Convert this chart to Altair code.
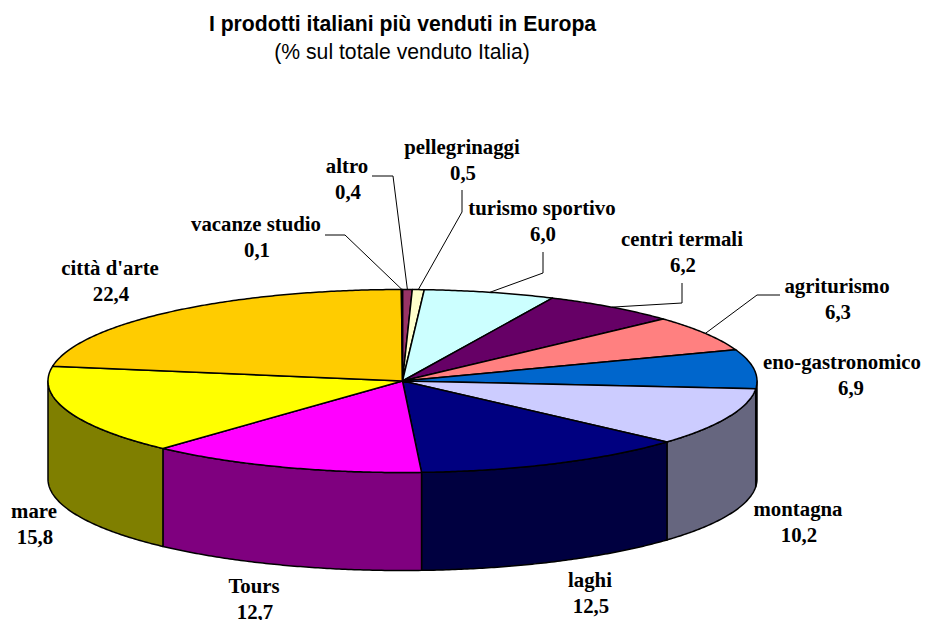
import math
import altair as alt
import pandas as pd

# ---- data (clockwise from 12 o'clock) ----
categories = ["altro", "pellegrinaggi", "turismo sportivo", "centri termali", "agriturismo",
              "eno-gastronomico", "montagna", "laghi", "Tours", "mare", "città d'arte", "vacanze studio"]
values = [0.44, 0.54, 5.96, 6.2, 6.3, 6.9, 10.24, 12.54, 12.66, 15.76, 22.36, 0.05]
value_labels = ["0,4", "0,5", "6,0", "6,2", "6,3", "6,9", "10,2", "12,5", "12,7", "15,8", "22,4", "0,1"]
colors = ["#993366", "#FFFFCC", "#CCFFFF", "#660066", "#FF8080", "#0066CC",
          "#CCCCFF", "#000080", "#FF00FF", "#FFFF00", "#FFCC00", "#800000"]

# ---- layout ----
M = 8
CX, CY, RX, RY, DEPTH = 402.5 - M, 381 - M, 354.5, 91.5, 98
label_centres = [(347, 166.5), (462, 147.5), (542, 208.5), (682, 239.5), (837, 286.5), (842, 362.5),
                 (798, 509.5), (590, 580.5), (254, 586.5), (34, 511.5), (110, 268.5), (256, 224.5)]
LINE_GAP = 26.5
leader_paths = {
    "altro": [(372, 176), (393, 176)],
    "pellegrinaggi": [(462, 190), (462, 212)],
    "turismo sportivo": [(543, 252), (543, 273)],
    "centri termali": [(682, 283), (682, 303)],
    "agriturismo": [(780, 295), (757, 295)],
    "vacanze studio": [(325, 235), (345, 235)],
}


def rim(t, dy=0.0):
    return [CX + RX * math.sin(t), CY - RY * math.cos(t) + dy]


def arc_points(a, b, dy=0.0):
    n = max(2, int(abs(b - a) / math.radians(0.5)) + 1)
    return [rim(a + (b - a) * i / n, dy) for i in range(n + 1)]


def darker(c):
    r, g, b = (int(c[i:i + 2], 16) // 2 for i in (1, 3, 5))
    return f"#{r:02x}{g:02x}{b:02x}"


def feature(coords, fill):
    return {"type": "Feature", "geometry": {"type": "Polygon", "coordinates": [coords + [coords[0]]]},
            "properties": {"fill": fill}}


total = sum(values)
angles = [0.0]
for v in values:
    angles.append(angles[-1] + v / total * 2 * math.pi)

walls, tops, leaders = [], [], []
for i, name in enumerate(categories):
    a, b = angles[i], angles[i + 1]
    lo, hi = max(a, math.pi / 2), min(b, 3 * math.pi / 2)
    if hi > lo:
        walls.append(feature(arc_points(lo, hi) + arc_points(hi, lo, DEPTH), darker(colors[i])))
    tops.append(feature([[CX, CY]] + arc_points(a, b), colors[i]))
    if name in leader_paths:
        pts = [[x - M, y - M] for x, y in leader_paths[name]] + [rim((a + b) / 2)]
        leaders.append({"type": "Feature", "geometry": {"type": "LineString", "coordinates": pts},
                        "properties": {"fill": "none"}})


def shapes(features, width):
    return (alt.Chart(alt.Data(values=features))
            .mark_geoshape(stroke="black", strokeWidth=width, strokeJoin="round")
            .encode(fill=alt.Fill("properties.fill:N", scale=None))
            .project(type="identity", scale=1, translate=[0, 0]))


rows = []
for name, val, (x, y) in zip(categories, value_labels, label_centres):
    rows.append({"x": x - M, "y": y - M, "t": name})
    rows.append({"x": (850 if name == "eno-gastronomico" else x) - M + 1, "y": y - M + LINE_GAP, "t": val})

labels = (alt.Chart(pd.DataFrame(rows))
          .mark_text(font="Liberation Serif", fontWeight="bold", fontSize=20.8, color="black",
                     align="center", baseline="middle")
          .encode(x=alt.X("x:Q", scale=None), y=alt.Y("y:Q", scale=None), text="t:N"))

title_df = pd.DataFrame([{"x": 402.5 - M, "y": 25 - M, "t": "I prodotti italiani più venduti in Europa"}])
sub_df = pd.DataFrame([{"x": 402 - M, "y": 53 - M, "t": "(% sul totale venduto Italia)"}])
title = (alt.Chart(title_df)
         .mark_text(font="Liberation Sans", fontWeight="bold", fontSize=21.2, color="black", baseline="middle")
         .encode(x=alt.X("x:Q", scale=None), y=alt.Y("y:Q", scale=None), text="t:N"))
subtitle = (alt.Chart(sub_df)
            .mark_text(font="Liberation Sans", fontSize=21.2, color="black", baseline="middle")
            .encode(x=alt.X("x:Q", scale=None), y=alt.Y("y:Q", scale=None), text="t:N"))

chart = (alt.layer(shapes(walls, 1.5), shapes(tops, 1.5), shapes(leaders, 1), labels, title, subtitle)
         .properties(width=915, height=612, padding=0, background="white",
                     autosize=alt.AutoSizeParams(type="none"))
         .configure_view(stroke=None))

chart.save("out.html", embed_options={"renderer": "svg", "actions": False})
